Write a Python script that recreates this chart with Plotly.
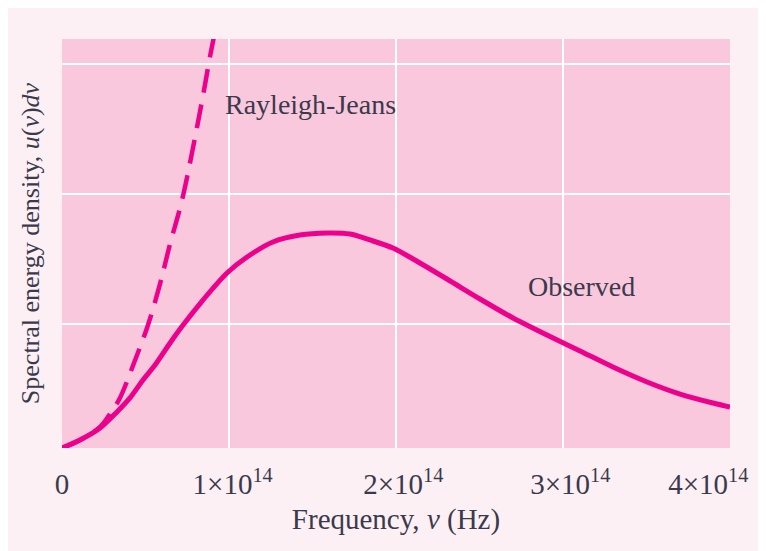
import plotly.graph_objects as go

# Frequencies in Hz, energy density in arbitrary units
obs_freq = [0.0, 0.108e14, 0.228e14, 0.329e14, 0.407e14, 0.485e14, 0.557e14, 0.647e14,
            0.725e14, 0.844e14, 0.988e14, 1.108e14, 1.263e14, 1.425e14, 1.587e14,
            1.725e14, 1.844e14, 1.982e14, 2.102e14, 2.305e14, 2.503e14, 2.701e14,
            2.904e14, 3.102e14, 3.299e14, 3.503e14, 3.701e14, 3.898e14, 4.0e14]
obs_u = [0.0, 0.062, 0.154, 0.277, 0.385, 0.523, 0.638, 0.808,
         0.946, 1.138, 1.346, 1.469, 1.585, 1.638, 1.654,
         1.646, 1.600, 1.538, 1.454, 1.300, 1.146, 1.000,
         0.869, 0.746, 0.623, 0.508, 0.415, 0.346, 0.315]

rj_freq = [0.0, 0.108e14, 0.228e14, 0.299e14, 0.347e14, 0.431e14, 0.515e14, 0.587e14,
           0.647e14, 0.719e14, 0.796e14, 0.856e14, 0.886e14, 0.928e14]
rj_u = [0.0, 0.062, 0.162, 0.285, 0.385, 0.654, 0.946, 1.262,
        1.569, 1.908, 2.385, 2.792, 3.008, 3.277]

x_tick_vals = [0, 1e14, 2e14, 3e14, 4e14]
x_tick_text = ["0", "\u00a01×10<sup>14</sup>", "\u00a0\u00a02×10<sup>14</sup>",
               "\u00a0\u00a03×10<sup>14</sup>",
               "4×10<sup>14</sup>" + "\u00a0" * 6]
x_grid_vals = [1e14, 2e14, 3e14]
y_grid_vals = [0.954, 1.954, 2.954]

MAGENTA = "#EC008C"
TEXT = "#3a3a4c"
FONT = "Liberation Serif"

fig = go.Figure()
fig.add_trace(go.Scatter(x=rj_freq, y=rj_u, mode="lines",
                         line=dict(color=MAGENTA, width=4.5, dash="24px,12px", shape="spline"),
                         hoverinfo="skip", showlegend=False))
fig.add_trace(go.Scatter(x=obs_freq, y=obs_u, mode="lines",
                         line=dict(color=MAGENTA, width=5, shape="spline", smoothing=0.8),
                         hoverinfo="skip", showlegend=False))

fig.add_annotation(x=1.485e14, y=2.64, text="Rayleigh-Jeans", showarrow=False,
                   font=dict(family=FONT, size=28, color=TEXT))
fig.add_annotation(x=3.108e14, y=1.24, text="Observed", showarrow=False,
                   font=dict(family=FONT, size=28, color=TEXT))

fig.update_layout(
    width=766, height=551,
    margin=dict(l=54, r=44, t=31, b=111, autoexpand=False),
    paper_bgcolor="#FDF0F5",
    plot_bgcolor="#F9C8DD",
    font=dict(family=FONT, size=26, color=TEXT),
    showlegend=False,
    xaxis=dict(range=[0, 4e14], tickvals=x_tick_vals, ticktext=x_tick_text,
               showgrid=False, zeroline=False, showline=False, ticks="",
               automargin=False, ticklabeloverflow="allow",
               ticklabelstandoff=16, tickfont=dict(family=FONT, size=29, color=TEXT),
               minor=dict(tickvals=x_grid_vals, showgrid=True, gridcolor="white", gridwidth=2),
               title=dict(text="Frequency, <i>v</i> (Hz)", standoff=9,
                          font=dict(family=FONT, size=29, color=TEXT))),
    yaxis=dict(range=[0, 3.146], tickvals=y_grid_vals, showticklabels=False,
               showgrid=True, gridcolor="white", gridwidth=2,
               zeroline=False, showline=False, ticks="", automargin=False,
               title=dict(text="Spectral energy density, <i>u</i>(<i>v</i>)<i>dv</i>", standoff=13,
                          font=dict(family=FONT, size=26, color=TEXT))),
)

fig.write_html("out.html", config={"displayModeBar": False})
